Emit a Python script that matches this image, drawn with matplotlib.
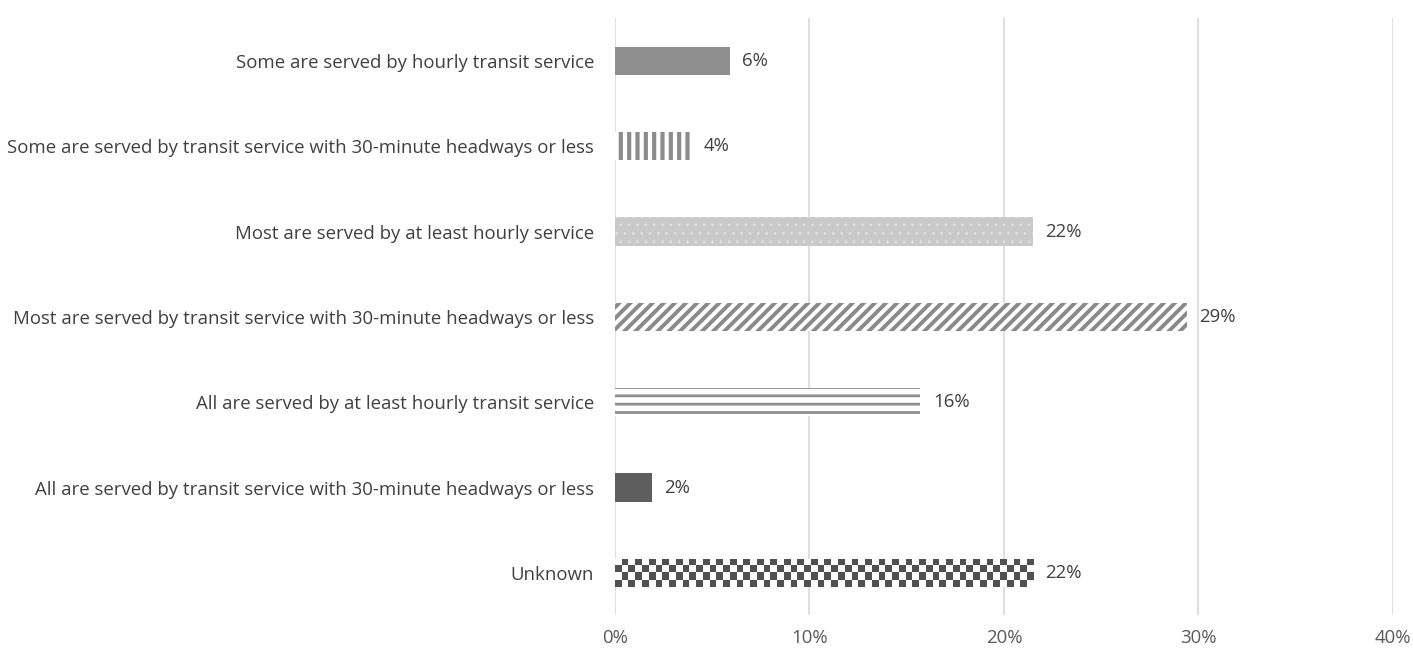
import numpy as np
import matplotlib
matplotlib.use("Agg")
import matplotlib.pyplot as plt

plt.rcParams['font.family'] = ['Open Sans', 'DejaVu Sans']

categories = [
    "Some are served by hourly transit service",
    "Some are served by transit service with 30-minute headways or less",
    "Most are served by at least hourly service",
    "Most are served by transit service with 30-minute headways or less",
    "All are served by at least hourly transit service",
    "All are served by transit service with 30-minute headways or less",
    "Unknown",
]
values = [5.9, 3.9, 21.5, 29.4, 15.7, 1.9, 21.5]
value_labels = ["6%", "4%", "22%", "29%", "16%", "2%", "22%"]
xticks = [0, 10, 20, 30, 40]

# fill style per bar: (face, hatch, hatch colour, hatch linewidth)
styles = [
    ("#8f8f8f", None, "#8f8f8f", 1.0),
    ("white", "||", "#8c8c8c", 3.0),
    ("#c9c9c9", "..", "#e0e0e0", 0.8),
    ("white", "///", "#8a8a8a", 2.8),
    ("white", "--", "#8e8e8e", 2.0),
    ("#5e5e5e", None, "#5e5e5e", 1.0),
    ("white", None, "white", 1.0),
]

fs = 13.4

fig = plt.figure(figsize=(14.13, 6.52), dpi=100)
ax = fig.add_axes([0.4352, 0.056, 0.5506, 0.916])

ypos = np.arange(len(categories))
bh = 0.33
bars = []
for i, (v, st) in enumerate(zip(values, styles)):
    face, hatch, hcol, hlw = st
    plt.rcParams['hatch.linewidth'] = hlw
    b = ax.barh(ypos[i], v, height=bh, color=face, hatch=hatch,
                edgecolor=hcol, linewidth=0, zorder=3)
    bars.append(b[0])

# checkerboard fill for the "Unknown" bar
last = bars[-1]
ncol = 62
nrow = 4
checker = (np.add.outer(np.arange(nrow), np.arange(ncol)) % 2).astype(float)
im = ax.imshow(checker, cmap=matplotlib.colors.ListedColormap(["white", "#505050"]),
               extent=[0, values[-1], ypos[-1] + bh / 2, ypos[-1] - bh / 2],
               aspect='auto', interpolation='nearest', zorder=4)
im.set_clip_path(last)

for i, (v, lab) in enumerate(zip(values, value_labels)):
    ax.annotate(lab, (v, ypos[i]), xytext=(9, 0), textcoords='offset points',
                va='center', ha='left', fontsize=fs, color='#404040')

ax.set_xlim(0, 40)
ax.set_ylim(len(categories) - 0.5, -0.5)
ax.set_yticks(ypos)
ax.set_yticklabels(categories, fontsize=fs, color='#404040')
ax.set_xticks(xticks)
ax.set_xticklabels([f"{t}%" for t in xticks], fontsize=fs, color='#595959')
ax.tick_params(axis='both', length=0)
ax.tick_params(axis='y', pad=15)
ax.tick_params(axis='x', pad=10)
for s in ax.spines.values():
    s.set_visible(False)
ax.grid(axis='x', color='#d9d9d9', linewidth=1.2, zorder=0)
ax.set_axisbelow(True)

fig.savefig("out.png", dpi=100)
